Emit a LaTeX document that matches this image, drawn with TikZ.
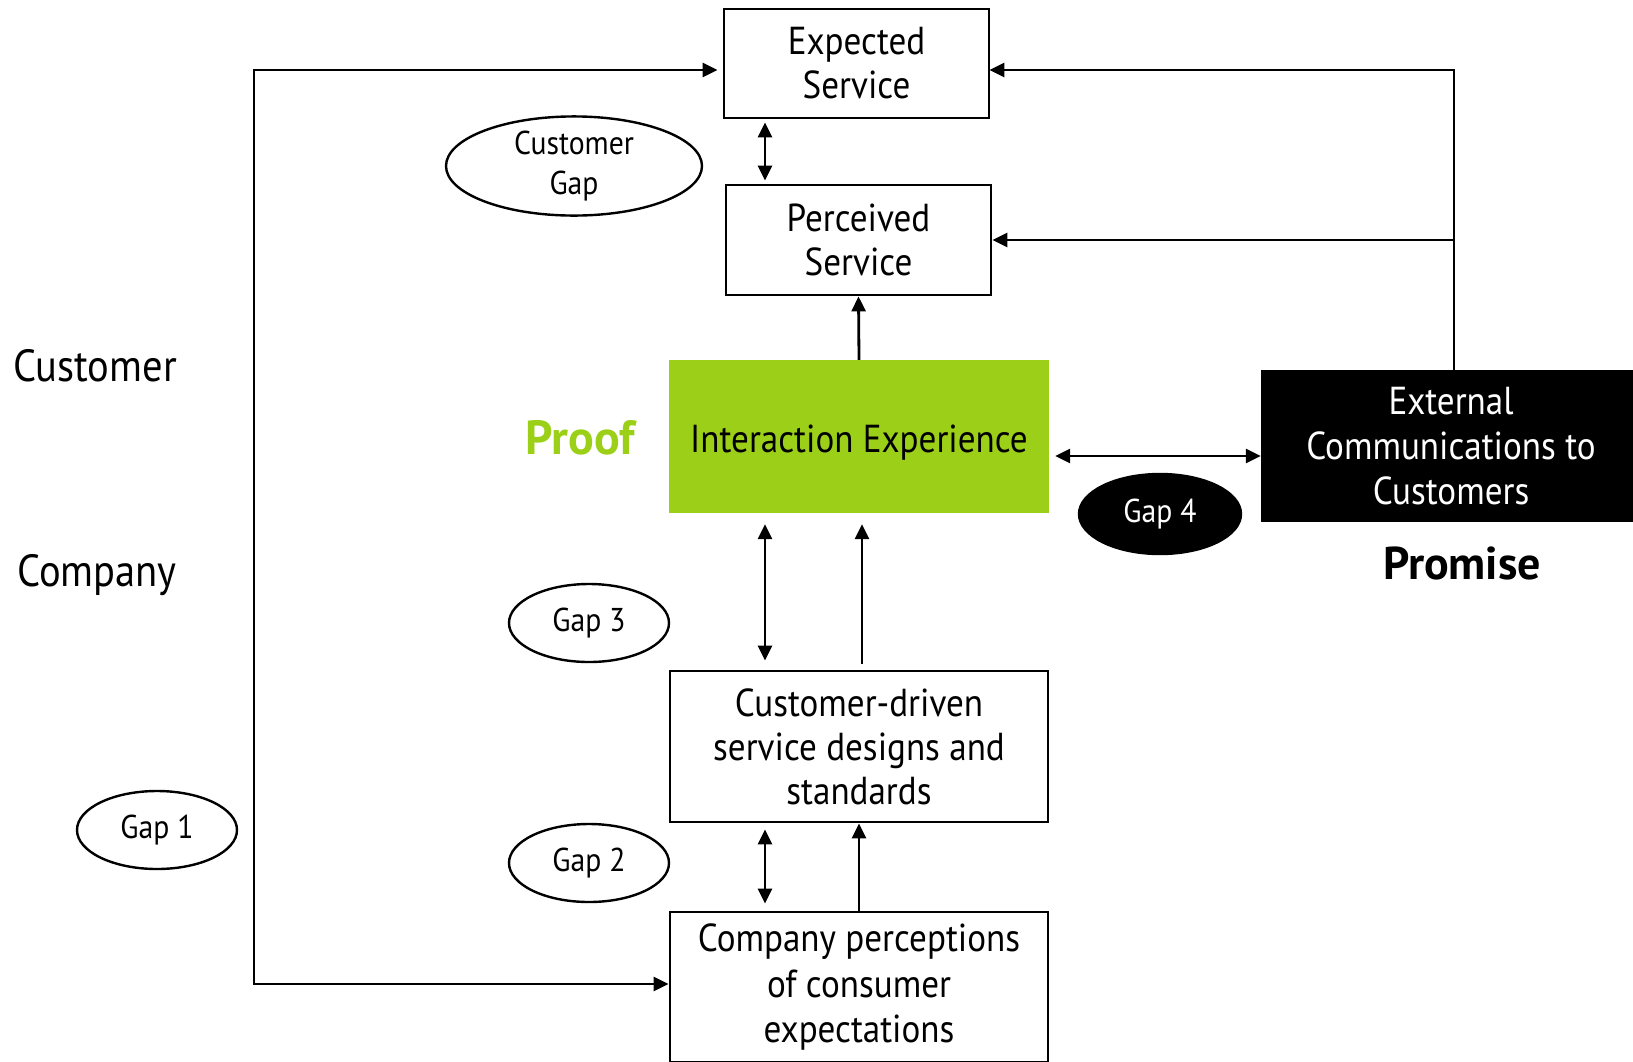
\documentclass[tikz,border=0pt]{standalone}
\usepackage{fontspec}
\setmainfont{PT Sans}[FakeStretch=0.9]
\newfontfamily\widesans{PT Sans}
\usetikzlibrary{shapes.geometric,arrows.meta}
\definecolor{proofgreen}{RGB}{155,207,24}
\tikzset{
  box/.style={draw, line width=2.8pt, align=center, inner sep=0pt, font=\fontsize{39}{44}\selectfont},
  gapell/.style={draw, ellipse, line width=2.4pt, inner sep=0pt, minimum width=160pt, minimum height=78pt, align=center, font=\fontsize{33}{40}\selectfont},
  lbl/.style={font=\fontsize{45}{50}\selectfont},
  tip/.tip={Triangle[length=15pt,width=14pt]},
  arr/.style={line width=2.8pt, -tip},
  dbl/.style={line width=2.8pt, tip-tip},
}
\begin{document}
\begin{tikzpicture}[x=1pt,y=-1pt]
\useasboundingbox (0,0) rectangle (1633,1061);
% boxes
\node[box, minimum width=265pt, minimum height=109pt] (exp) at (856.5,63.5) {Expected\\Service};
\node[box, minimum width=265pt, minimum height=110pt] (perc) at (858.5,240) {Perceived\\Service};
\node[fill=proofgreen, minimum width=380pt, minimum height=153pt, inner sep=0pt, font=\fontsize{39}{44}\selectfont] (inter) at (859,436.5) {\raisebox{-16pt}[0pt][0pt]{Interaction Experience}};
\node[fill=black, text=white, minimum width=380pt, minimum height=152pt, inner sep=0pt, align=center, font=\fontsize{39}{45}\selectfont] (ext) at (1451,446) {External\\Communications to\\Customers};
\node[box, minimum width=378pt, minimum height=151pt] (cdd) at (859,746.5) {Customer-driven\\service designs and\\standards};
\node[box, minimum width=378pt, minimum height=150pt, font=\fontsize{39}{45.5}\selectfont] (comp) at (859,987) {Company perceptions\\of consumer\\expectations};
% ellipses
\node[gapell, minimum width=256pt, minimum height=96pt] (cgap) at (574,166) {Customer\\Gap};
\node[gapell] (gap3) at (589,623) {Gap 3};
\node[gapell] (gap2) at (589,863) {Gap 2};
\node[gapell] (gap1) at (157,830) {Gap 1};
\node[gapell, fill=black, text=white, minimum width=162pt, minimum height=80pt] (gap4) at (1160,514) {\raisebox{-3pt}{Gap 4}};
% labels
\node[lbl] (lcust) at (95,366) {Customer};
\node[lbl] (lcomp) at (97,575) {Company};
\node[font=\widesans\bfseries\fontsize{48}{52}\selectfont, text=proofgreen] (proof) at (580,438) {Proof};
\node[font=\widesans\bfseries\fontsize{46}{50}\selectfont] (promise) at (1462,563) {Promise};
% connectors
\coordinate (tr) at (1454,70);
\coordinate (bl) at (254,984);
\draw[dbl, shorten <=3pt, shorten >=3pt] (765,0 |- exp.south) -- (765,0 |- perc.north);
\draw[arr] (inter.north) -- (perc.south);
\draw[arr] (ext.north -| tr) -- (tr) -- ([xshift=-1pt]exp.east |- tr);
\draw[arr] (1454,0 |- perc.east) -- ([xshift=0pt]perc.east);
\draw[dbl] ([xshift=6pt]inter.east |- 0,456) -- (ext.west |- 0,456);
\draw[dbl, shorten <=5pt] ([xshift=0pt]exp.west |- tr) -| (bl) -- (comp.west |- bl);
\draw[dbl, shorten <=11pt, shorten >=9pt] (765,0 |- inter.south) -- (765,0 |- cdd.north);
\draw[arr, shorten <=6pt, shorten >=11pt] (862,0 |- cdd.north) -- (862,0 |- inter.south);
\draw[dbl, shorten <=6pt, shorten >=7pt] (765,0 |- cdd.south) -- (765,0 |- comp.north);
\draw[arr] (comp.north) -- (cdd.south);
\end{tikzpicture}
\end{document}
